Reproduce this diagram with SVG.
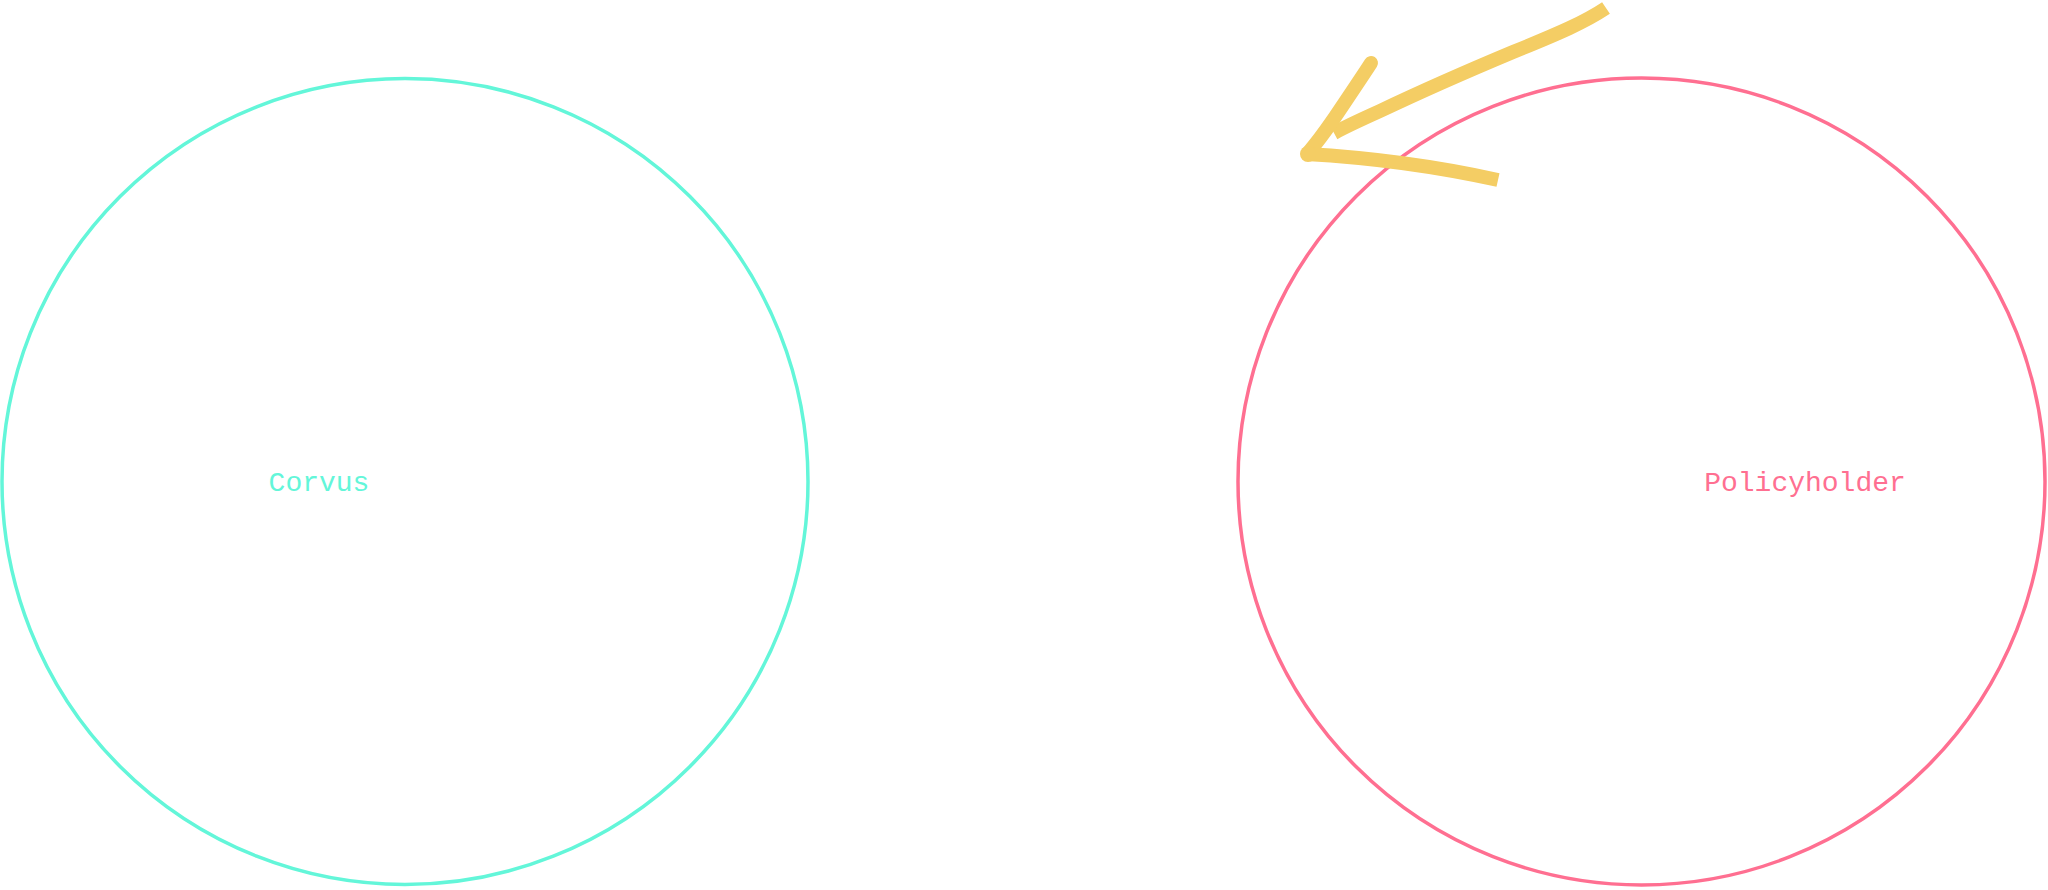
<svg xmlns="http://www.w3.org/2000/svg" width="2048" height="890" viewBox="0 0 2048 890">
  <style>
    .node-circle { fill: none; stroke-width: 3.5; }
    .label { font-family: "Liberation Mono", "DejaVu Sans Mono", monospace; font-size: 28px; text-anchor: middle; }
    .hidden-text { font-family: "Liberation Sans", Arial, sans-serif; fill: #ffffff; }
    .hidden-arrow { fill: none; stroke: #ffffff; stroke-width: 8; stroke-linecap: round; stroke-linejoin: round; }
    .brush { fill: none; stroke: #f4cd64; stroke-width: 14; stroke-linejoin: round; }
  </style>
  <rect width="2048" height="890" fill="#ffffff"/>

  <g id="node-corvus">
    <circle class="node-circle" cx="405" cy="481.5" r="403" stroke="#63f6d9"/>
    <text class="label" x="319" y="491" fill="#63f6d9">Corvus</text>
  </g>

  <g id="node-policyholder">
    <circle class="node-circle" cx="1641.5" cy="481.5" r="403.5" stroke="#ff6f91"/>
    <text class="label" x="1805" y="491" fill="#ff6f91">Policyholder</text>
  </g>

  <g id="connectors">
    <g id="hidden-top">
      <path class="hidden-arrow" d="M870,287 L1182,287 M1155,264 L1182,287 L1155,310"/>
      <text class="hidden-text" x="760" y="230" font-size="50" textLength="522">easier and cheaper</text>
    </g>
    <g id="hidden-bottom">
      <path class="hidden-arrow" d="M1177,680 L867,680 M893,657 L867,680 L893,703"/>
      <text class="hidden-text" x="880" y="760" font-size="50" textLength="288">engagement</text>
    </g>
    <g id="yellow-arrow">
      <path class="brush" stroke-linecap="butt" d="M1606,8 C1585,22 1560,33 1513,52 C1470,70 1420,92 1380,111 C1360,120 1345,127 1334,133"/>
      <path class="brush" stroke-linecap="round" stroke-width="19" d="M1371,63 C1360,80 1345,102 1333,120 C1322,136 1314,146 1308,153"/>
      <path class="brush" stroke-linecap="butt" d="M1306,154 C1360,157 1430,165 1498,180"/>
      <circle cx="1308" cy="154" r="8" fill="#f4cd64"/>
    </g>
  </g>
</svg>
